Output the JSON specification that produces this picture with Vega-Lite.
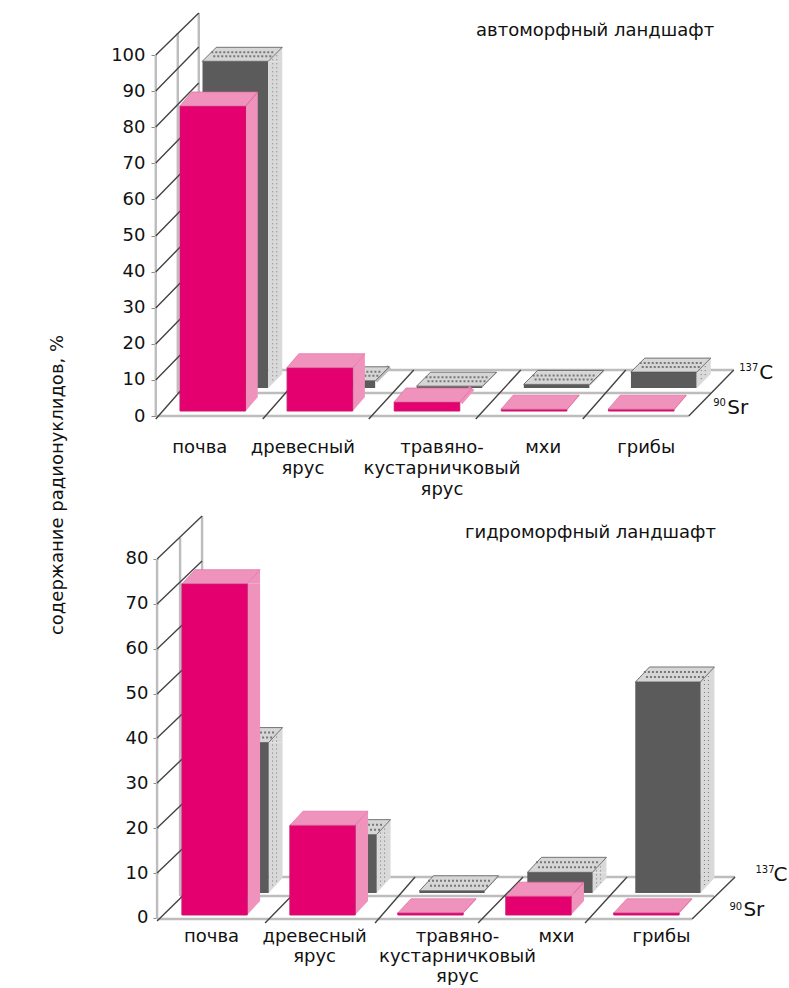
{
"$schema":"https://vega.github.io/schema/vega-lite/v6.json",
"padding":0,
"background":"white",
"config":{"view":{"stroke":null},"font":"DejaVu Sans","point":{"opacity":1},"text":{"font":"DejaVu Sans","color":"#111"}},
"datasets":{
"auto":[
{"category":"почва","isotope":"90Sr","value":84.5},
{"category":"древесный ярус","isotope":"90Sr","value":12},
{"category":"травяно- кустарничковый ярус","isotope":"90Sr","value":2.5},
{"category":"мхи","isotope":"90Sr","value":0.5},
{"category":"грибы","isotope":"90Sr","value":0.5},
{"category":"почва","isotope":"137C","value":90.5},
{"category":"древесный ярус","isotope":"137C","value":2},
{"category":"травяно- кустарничковый ярус","isotope":"137C","value":0.5},
{"category":"мхи","isotope":"137C","value":1},
{"category":"грибы","isotope":"137C","value":4.4}
],
"hydro":[
{"category":"почва","isotope":"90Sr","value":73.8},
{"category":"древесный ярус","isotope":"90Sr","value":20},
{"category":"травяно- кустарничковый ярус","isotope":"90Sr","value":0.5},
{"category":"мхи","isotope":"90Sr","value":4.2},
{"category":"грибы","isotope":"90Sr","value":0.5},
{"category":"почва","isotope":"137C","value":33.5},
{"category":"древесный ярус","isotope":"137C","value":13},
{"category":"травяно- кустарничковый ярус","isotope":"137C","value":0.5},
{"category":"мхи","isotope":"137C","value":4.6},
{"category":"грибы","isotope":"137C","value":47}
],
"origin":[{"category":"почва","value":0}]
},
"hconcat":[
{"width":100,"height":970,"data":{"values":[{"t":"содержание радионуклидов, %"}]},
 "mark":{"type":"text","angle":270,"fontSize":18,"xOffset":8},
 "encoding":{"text":{"field":"t"}}},
{"spacing":2,"vconcat":[
{"width":542,"height":430,"data":{"name":"auto"},
 "encoding":{
  "x":{"field":"category","type":"nominal","sort":null,"title":null,
   "scale":{"type":"band","domain":["почва","древесный ярус","травяно- кустарничковый ярус","мхи","грибы"],"paddingInner":0.388,"paddingOuter":0.224},
   "axis":{"domain":false,"ticks":false,"labelAngle":0,"labelFontSize":18,"labelColor":"#111","labelPadding":8,"labelBaseline":"top","labelLineHeight":21,"labelOverlap":false,"labelBound":false,"labelFlush":false,"labelLimit":0,
    "labelOffset":{"condition":[{"test":"datum.value=='почва'","value":-13},{"test":"datum.value=='древесный ярус'","value":-17},{"test":"datum.value=='травяно- кустарничковый ярус'","value":15},{"test":"datum.value=='мхи'","value":9}],"value":5},
    "labelExpr":"datum.value=='древесный ярус'?['древесный','ярус']:datum.value=='мхи'?'мхи':datum.value=='почва'?'почва':datum.value=='грибы'?'грибы':['травяно-','кустарничковый','ярус']"}},
  "y":{"field":"value","type":"quantitative","title":null,
   "scale":{"domain":[-3.878,115.24],"nice":false,"zero":false},
   "axis":{"domain":false,"grid":false,"values":[0,10,20,30,40,50,60,70,80,90,100],"tickSize":5,"tickColor":"#888","labelFontSize":18,"labelColor":"#111","labelPadding":6}}
 },
 "layer":[
  {"data":{"name":"origin"},"mark":{"type":"point","filled":false,"size":4,"stroke":"#bdbdbd","strokeWidth":2.4,
    "shape":"M-57,0L-57,-361M-35,-23L-35,-383M-14,-46L-14,-403M-57,0L476,0M-35,-23L498,-23M-14,-46L521,-46"}},
  {"data":{"name":"origin"},"mark":{"type":"point","filled":false,"size":4,"stroke":"#444","strokeWidth":1.4,
    "shape":"M-57,3L-14,-46M-57,-36L-14,-80M-57,-72L-14,-116M-57,-108L-14,-152M-57,-144L-14,-188M-57,-180L-14,-224M-57,-217L-14,-261M-57,-253L-14,-297M-57,-289L-14,-333M-57,-325L-14,-369M-57,-361L-14,-403M50,3L93,-46M156,3L201,-46M263,3L308,-46M370,3L413,-46M476,0L521,-46"}},
  {"transform":[{"filter":"datum.isotope=='137C'"}],"layer":[
   {"transform":[{"filter":"datum.value>=4"}],"layer":[
    {"mark":{"type":"bar","fill":"#d9d9d9","width":14,"xOffset":62.5,"yOffset":-28,"y2Offset":-42},"encoding":{"y2":{"datum":0}}},
    {"mark":{"type":"point","filled":true,"size":4,"fill":"#d9d9d9","stroke":null,"xOffset":22.5,"yOffset":-28,"shape":"M33,0L47,-14L47,0Z"}},
    {"mark":{"type":"point","filled":true,"size":4,"fill":"#d9d9d9","stroke":null,"xOffset":22.5,"yOffset":-28,"shape":"M33,0L47,-14L33,-14Z"},"encoding":{"y":{"datum":0,"type":"quantitative"}}},
    {"mark":{"type":"rule","stroke":"#777","strokeDash":[1,3],"xOffset":60,"yOffset":-34,"y2Offset":-34},"encoding":{"y2":{"datum":0}}},
    {"mark":{"type":"rule","stroke":"#777","strokeDash":[1,3],"xOffset":64,"yOffset":-38,"y2Offset":-38},"encoding":{"y2":{"datum":0}}}
   ]},
   {"transform":[{"filter":"datum.value<4"}],"mark":{"type":"point","filled":false,"size":4,"stroke":"#bdbdbd","xOffset":22.5,"yOffset":-28,"shape":"M33,0L47,-14"},
    "encoding":{"strokeWidth":{"field":"value","type":"quantitative","legend":null,"scale":{"domain":[0,4],"range":[0,10]}}}},
   {"mark":{"type":"bar","fill":"#5b5b5b","xOffset":22.5,"yOffset":-28,"y2Offset":-28,"x2Offset":22.5},"encoding":{"y2":{"datum":0}}},
   {"mark":{"type":"point","filled":true,"size":4,"fill":"#d6d6d6","stroke":"#555","strokeWidth":0.8,"xOffset":22.5,"yOffset":-28,"shape":"M-33,0L33,0L47,-14L-19,-14Z"}},
   {"mark":{"type":"point","filled":false,"size":4,"stroke":"#777","strokeDash":[2,2],"xOffset":22.5,"yOffset":-28,"shape":"M-22,-5L36,-5M-24,-9L38,-9"}}
  ]},
  {"transform":[{"filter":"datum.isotope=='90Sr'"}],"layer":[
   {"transform":[{"filter":"datum.value>=4"}],"layer":[
    {"mark":{"type":"bar","fill":"#ef93bc","width":12,"xOffset":39,"yOffset":-5,"y2Offset":-19},"encoding":{"y2":{"datum":0}}},
    {"mark":{"type":"point","filled":true,"size":4,"fill":"#ef93bc","stroke":null,"yOffset":-5,"shape":"M33,0L45,-14L45,0Z"}},
    {"mark":{"type":"point","filled":true,"size":4,"fill":"#ef93bc","stroke":null,"yOffset":-5,"shape":"M33,0L45,-14L33,-14Z"},"encoding":{"y":{"datum":0,"type":"quantitative"}}}
   ]},
   {"transform":[{"filter":"datum.value<4"}],"mark":{"type":"point","filled":false,"size":4,"stroke":"#ef93bc","yOffset":-5,"shape":"M33,0L45,-14"},
    "encoding":{"strokeWidth":{"field":"value","type":"quantitative","legend":null,"scale":{"domain":[0,4],"range":[0,10]}}}},
   {"mark":{"type":"bar","fill":"#e4006e","stroke":"#c9166e","strokeWidth":1,"yOffset":-5,"y2Offset":-5},"encoding":{"y2":{"datum":0}}},
   {"mark":{"type":"point","filled":true,"size":4,"fill":"#ef93bc","stroke":"#d9609a","strokeWidth":0.6,"yOffset":-5,"shape":"M-33,0L33,0L45,-14L-21,-14Z"}}
  ]},
  {"data":{"values":[{"category":"мхи","value":0,"t":"автоморфный ландшафт"}]},"mark":{"type":"text","fontSize":18,"dx":61,"dy":-385},"encoding":{"text":{"field":"t"}}},
  {"data":{"values":[{"category":"грибы","value":0,"t":"137"}]},"mark":{"type":"text","fontSize":10,"align":"left","dx":98,"dy":-48},"encoding":{"text":{"field":"t"}}},
  {"data":{"values":[{"category":"грибы","value":0,"t":"C"}]},"mark":{"type":"text","fontSize":20,"align":"left","dx":118,"dy":-43},"encoding":{"text":{"field":"t"}}},
  {"data":{"values":[{"category":"грибы","value":0,"t":"90"}]},"mark":{"type":"text","fontSize":10,"align":"left","dx":72,"dy":-13},"encoding":{"text":{"field":"t"}}},
  {"data":{"values":[{"category":"грибы","value":0,"t":"Sr"}]},"mark":{"type":"text","fontSize":20,"align":"left","dx":86,"dy":-8},"encoding":{"text":{"field":"t"}}}
 ]},
{"width":549,"height":425,"data":{"name":"hydro"},
 "encoding":{
  "x":{"field":"category","type":"nominal","sort":null,"title":null,
   "scale":{"type":"band","domain":["почва","древесный ярус","травяно- кустарничковый ярус","мхи","грибы"],"paddingInner":0.395,"paddingOuter":0.24},
   "axis":{"domain":false,"ticks":false,"labelAngle":0,"labelFontSize":18,"labelColor":"#111","labelPadding":2,"labelBaseline":"top","labelLineHeight":20,"labelOverlap":false,"labelBound":false,"labelFlush":false,"labelLimit":0,
    "labelOffset":{"condition":[{"test":"datum.value=='почва'","value":-3},{"test":"datum.value=='древесный ярус'","value":-8},{"test":"datum.value=='травяно- кустарничковый ярус'","value":27},{"test":"datum.value=='мхи'","value":18}],"value":15},
    "labelExpr":"datum.value=='древесный ярус'?['древесный','ярус']:datum.value=='мхи'?'мхи':datum.value=='почва'?'почва':datum.value=='грибы'?'грибы':['травяно-','кустарничковый','ярус']"}},
  "y":{"field":"value","type":"quantitative","title":null,
   "scale":{"domain":[-1.56,93.1],"nice":false,"zero":false},
   "axis":{"domain":false,"grid":false,"offset":-2,"values":[0,10,20,30,40,50,60,70,80],"tickSize":5,"tickColor":"#888","labelFontSize":18,"labelColor":"#111","labelPadding":5}}
 },
 "layer":[
  {"data":{"name":"origin"},"mark":{"type":"point","filled":false,"size":4,"stroke":"#bdbdbd","strokeWidth":2.4,
    "shape":"M-57.5,1L-57.5,-359M-34.5,-22L-34.5,-380M-12.5,-41L-12.5,-402M-57.5,1L477.5,1M-34.5,-22L499.5,-22M-12.5,-41L520.5,-41"}},
  {"data":{"name":"origin"},"mark":{"type":"point","filled":false,"size":4,"stroke":"#444","strokeWidth":1.4,
    "shape":"M-57.5,3L-12.5,-41M-57.5,-45L-12.5,-88M-57.5,-90L-12.5,-133M-57.5,-135L-12.5,-178M-57.5,-180L-12.5,-223M-57.5,-224L-12.5,-267M-57.5,-269L-12.5,-312M-57.5,-314L-12.5,-357M-57.5,-359L-12.5,-402M50.5,5L95.5,-41M160.5,5L200.5,-41M263.5,5L308.5,-41M370.5,5L412.5,-41M477.5,1L520.5,-41"}},
  {"transform":[{"filter":"datum.isotope=='137C'"}],"layer":[
   {"transform":[{"filter":"datum.value>=4"}],"layer":[
    {"mark":{"type":"bar","fill":"#d9d9d9","width":14,"xOffset":61,"yOffset":-25,"y2Offset":-40},"encoding":{"y2":{"datum":0}}},
    {"mark":{"type":"point","filled":true,"size":4,"fill":"#d9d9d9","stroke":null,"xOffset":21.5,"yOffset":-25,"shape":"M32.5,0L46.5,-15L46.5,0Z"}},
    {"mark":{"type":"point","filled":true,"size":4,"fill":"#d9d9d9","stroke":null,"xOffset":21.5,"yOffset":-25,"shape":"M32.5,0L46.5,-15L32.5,-15Z"},"encoding":{"y":{"datum":0,"type":"quantitative"}}},
    {"mark":{"type":"rule","stroke":"#777","strokeDash":[1,3],"xOffset":58,"yOffset":-31,"y2Offset":-31},"encoding":{"y2":{"datum":0}}},
    {"mark":{"type":"rule","stroke":"#777","strokeDash":[1,3],"xOffset":62,"yOffset":-35,"y2Offset":-35},"encoding":{"y2":{"datum":0}}}
   ]},
   {"transform":[{"filter":"datum.value<4"}],"mark":{"type":"point","filled":false,"size":4,"stroke":"#bdbdbd","xOffset":21.5,"yOffset":-25,"shape":"M32.5,0L46.5,-15"},
    "encoding":{"strokeWidth":{"field":"value","type":"quantitative","legend":null,"scale":{"domain":[0,4],"range":[0,12]}}}},
   {"mark":{"type":"bar","fill":"#5b5b5b","xOffset":21.5,"yOffset":-25,"y2Offset":-25,"x2Offset":21.5},"encoding":{"y2":{"datum":0}}},
   {"mark":{"type":"point","filled":true,"size":4,"fill":"#d6d6d6","stroke":"#555","strokeWidth":0.8,"xOffset":21.5,"yOffset":-25,"shape":"M-32.5,0L32.5,0L46.5,-15L-18.5,-15Z"}},
   {"mark":{"type":"point","filled":false,"size":4,"stroke":"#777","strokeDash":[2,2],"xOffset":21.5,"yOffset":-25,"shape":"M-22,-5L36,-5M-24,-10L38,-10"}}
  ]},
  {"transform":[{"filter":"datum.isotope=='90Sr'"}],"layer":[
   {"transform":[{"filter":"datum.value>=4"}],"layer":[
    {"mark":{"type":"bar","fill":"#ef93bc","width":13,"xOffset":39,"yOffset":-3,"y2Offset":-17},"encoding":{"y2":{"datum":0}}},
    {"mark":{"type":"point","filled":true,"size":4,"fill":"#ef93bc","stroke":null,"yOffset":-3,"shape":"M32.5,0L45.5,-14L45.5,0Z"}},
    {"mark":{"type":"point","filled":true,"size":4,"fill":"#ef93bc","stroke":null,"yOffset":-3,"shape":"M32.5,0L45.5,-14L32.5,-14Z"},"encoding":{"y":{"datum":0,"type":"quantitative"}}}
   ]},
   {"transform":[{"filter":"datum.value<4"}],"mark":{"type":"point","filled":false,"size":4,"stroke":"#ef93bc","yOffset":-3,"shape":"M32.5,0L45.5,-14"},
    "encoding":{"strokeWidth":{"field":"value","type":"quantitative","legend":null,"scale":{"domain":[0,4],"range":[0,12]}}}},
   {"mark":{"type":"bar","fill":"#e4006e","stroke":"#c9166e","strokeWidth":1,"yOffset":-3,"y2Offset":-3},"encoding":{"y2":{"datum":0}}},
   {"mark":{"type":"point","filled":true,"size":4,"fill":"#ef93bc","stroke":"#d9609a","strokeWidth":0.6,"yOffset":-3,"shape":"M-32.5,0L32.5,0L45.5,-14L-19.5,-14Z"}}
  ]},
  {"data":{"values":[{"category":"мхи","value":0,"t":"гидроморфный ландшафт"}]},"mark":{"type":"text","fontSize":18,"dx":52,"dy":-385},"encoding":{"text":{"field":"t"}}},
  {"data":{"values":[{"category":"грибы","value":0,"t":"137"}]},"mark":{"type":"text","fontSize":10,"align":"left","dx":109,"dy":-48},"encoding":{"text":{"field":"t"}}},
  {"data":{"values":[{"category":"грибы","value":0,"t":"C"}]},"mark":{"type":"text","fontSize":20,"align":"left","dx":127,"dy":-43},"encoding":{"text":{"field":"t"}}},
  {"data":{"values":[{"category":"грибы","value":0,"t":"90"}]},"mark":{"type":"text","fontSize":10,"align":"left","dx":83,"dy":-11},"encoding":{"text":{"field":"t"}}},
  {"data":{"values":[{"category":"грибы","value":0,"t":"Sr"}]},"mark":{"type":"text","fontSize":20,"align":"left","dx":97,"dy":-8},"encoding":{"text":{"field":"t"}}}
 ]}
]}
],
"spacing":10
}
